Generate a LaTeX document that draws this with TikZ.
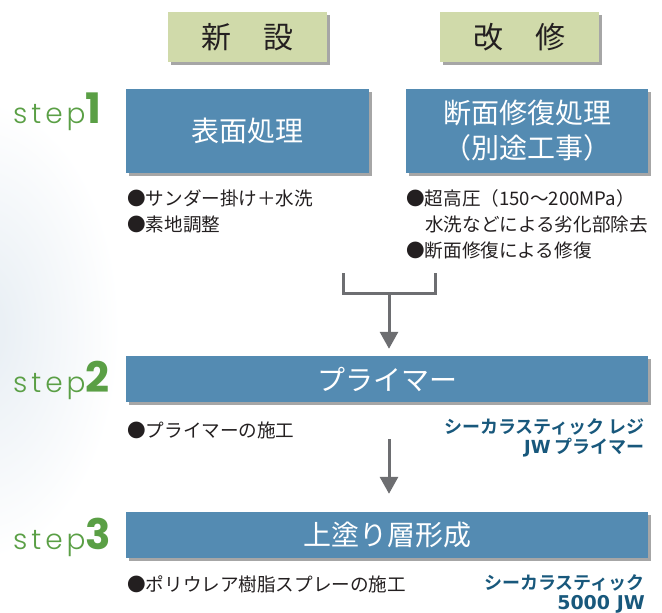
\documentclass[tikz,border=0pt]{standalone}
\usepackage{fontspec}
\setmainfont{Noto Sans CJK JP}[BoldFont=* Bold]
\newfontfamily\stepfont{Poppins Light}[LetterSpace=14]
\newfontfamily\stepnum{Poppins}[UprightFont=* Bold]
\newfontfamily\prodlat{DejaVu Sans Bold}
\usetikzlibrary{shadows,arrows.meta}
\definecolor{boxblue}{RGB}{84,139,178}
\definecolor{hdrgreen}{RGB}{208,218,170}
\definecolor{stepgreen}{RGB}{90,159,69}
\definecolor{arrgray}{RGB}{109,110,113}
\definecolor{prodblue}{RGB}{24,88,124}
\definecolor{txt}{RGB}{35,31,32}
\definecolor{bgtint}{RGB}{230,237,243}
\tikzset{
  shad/.style={drop shadow={shadow xshift=2.5pt, shadow yshift=-3pt, fill=black, opacity=0.35}},
  mainbox/.style={shad, fill=boxblue, text=white, font=\fontsize{28}{35}\selectfont, align=center, inner sep=0pt},
  hdrbox/.style={shad, fill=hdrgreen, text=txt, minimum width=159pt, minimum height=50pt, inner sep=0pt, font=\fontsize{30}{30}\selectfont},
  bul/.style={anchor=base west, inner sep=0pt, text=txt, font=\fontsize{18.6}{22}\selectfont},
  prod/.style={anchor=base east, inner sep=0pt, text=prodblue, font=\fontsize{18}{20}\selectfont\bfseries},
  steplbl/.style={anchor=base west, inner sep=0pt, text=stepgreen},
  conn/.style={draw=arrgray, line width=3pt},
  tip/.style={-{Triangle[width=18pt,length=17pt]}, arrgray}
}
\begin{document}
\begin{tikzpicture}[x=1pt,y=-1pt]
\useasboundingbox (0,0) rectangle (662,613);
\begin{scope}
  \clip (0,0) rectangle (662,613);
  \shade[inner color=bgtint, outer color=white] (-20,330) ellipse (140pt and 230pt);
\end{scope}
% headers
\node[hdrbox] (shin) at (247.5,37) {新\hspace{1.05em}設};
\node[hdrbox] (kai) at (519.5,37) {改\hspace{1.05em}修};
% step labels
\node[steplbl] (st1) at (13,123) {\fontsize{28}{30}\stepfont step\stepnum\fontsize{42}{42}\selectfont 1};
\node[steplbl] (st2) at (13,392) {\fontsize{28}{30}\stepfont step\stepnum\fontsize{42}{42}\selectfont 2};
\node[steplbl] (st3) at (13,549) {\fontsize{28}{30}\stepfont step\stepnum\fontsize{42}{42}\selectfont 3};
% step 1
\node[mainbox, minimum width=243pt, minimum height=84pt] (s1a) at (247.5,131) {表面処理};
\node[mainbox, minimum width=242pt, minimum height=84pt] (s1b) at (527,131) {断面修復処理\\（別途工事）};
\node[bul] (b1) at (127,205) {●サンダー掛け＋水洗};
\node[bul] (b2) at (127,231) {●素地調整};
\node[bul] (b3) at (406,205) {●超高圧（150〜200MPa）};
\node[bul] (b4) at (425,231) {水洗などによる劣化部除去};
\node[bul] (b5) at (406,257) {●断面修復による修復};
% bracket and arrow 1
\coordinate (bl) at (343,273);
\coordinate (br) at (435,273);
\coordinate (bj) at (389,293);
\draw[conn] (bl) |- (bj) -| (br);
% step 2
\node[mainbox, minimum width=522pt, minimum height=46pt] (s2) at (387,379) {プライマー};
\draw[conn, tip, shorten >=7pt] (bj) -- (bj |- s2.north);
\node[bul] (b6) at (127,437) {●プライマーの施工};
\node[prod] (p1) at (645,433) {シーカラスティック レジ};
\node[prod] (p2) at (645,453) {{\prodlat JW} プライマー};
% step 3
\node[mainbox, minimum width=522pt, minimum height=46pt] (s3) at (387,535) {上塗り層形成};
\coordinate (a2) at (389,439);
\draw[conn, tip, shorten >=18pt] (a2) -- (a2 |- s3.north);
\node[bul] (b7) at (127,591) {●ポリウレア樹脂スプレーの施工};
\node[prod] (p3) at (645,589) {シーカラスティック};
\node[prod] (p4) at (645,609) {\prodlat\fontsize{19}{20}\selectfont 5000 JW};
\end{tikzpicture}
\end{document}
